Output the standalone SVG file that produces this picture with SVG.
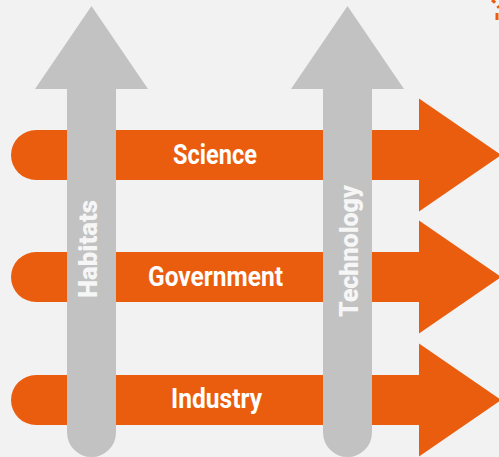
<svg xmlns="http://www.w3.org/2000/svg" width="499" height="457" viewBox="0 0 499 457">
<style>
.bar{fill:#EA5C0E}
.up{fill:#C2C2C2}
.h{font-family:Roboto,"Liberation Sans",sans-serif;font-weight:bold;font-size:27px;fill:#FFFFFF;text-anchor:middle}
.v{font-family:Roboto,"Liberation Sans",sans-serif;font-weight:900;font-size:26px;fill:#F6F6F6;text-anchor:middle}
</style>
<rect width="499" height="457" fill="#F2F2F2"/>
<path d="M492,0 Q497,4 499,8" fill="none" stroke="#EA5C0E" stroke-width="3" stroke-dasharray="4 4"/>
<path d="M497,13 L497,20" fill="none" stroke="#EA5C0E" stroke-width="3"/>
<g id="connectors">
<g id="science-arrow">
<path class="bar" d="M36,130 H419 V98.5 L501,155 L419,211.5 V180 H36 A25,25 0 0 1 36,130 Z"/>
</g>
<g id="government-arrow">
<path class="bar" d="M36,252 H419 V220.5 L501,277 L419,333.5 V302 H36 A25,25 0 0 1 36,252 Z"/>
</g>
<g id="industry-arrow">
<path class="bar" d="M36,375 H419 V343.5 L501,400 L419,456.5 V425 H36 A25,25 0 0 1 36,375 Z"/>
</g>
<g id="habitats-arrow">
<path class="up" d="M67,89 H35 L91.5,6 L148,89 H116 V432.5 A24.5,24.5 0 0 1 67,432.5 Z"/>
</g>
<g id="technology-arrow">
<path class="up" d="M323,89 H291 L347.5,6 L404,89 H372 V432.5 A24.5,24.5 0 0 1 323,432.5 Z"/>
</g>
</g>
<g id="science"><text class="h" x="215" y="164" textLength="84" lengthAdjust="spacingAndGlyphs">Science</text></g>
<g id="government"><text class="h" x="215.5" y="286" textLength="135" lengthAdjust="spacingAndGlyphs">Government</text></g>
<g id="industry"><text class="h" x="216.5" y="408" textLength="91" lengthAdjust="spacingAndGlyphs">Industry</text></g>
<g id="habitats"><text class="v" transform="translate(97,249) rotate(-90)" x="0" y="0" textLength="98" lengthAdjust="spacingAndGlyphs">Habitats</text></g>
<g id="technology"><text class="v" transform="translate(358,251) rotate(-90)" x="0" y="0" textLength="132" lengthAdjust="spacingAndGlyphs">Technology</text></g>
</svg>
